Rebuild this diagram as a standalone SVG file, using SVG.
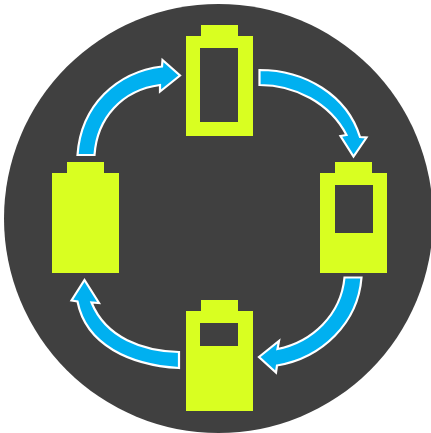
<svg xmlns="http://www.w3.org/2000/svg" width="431" height="433" viewBox="0 0 431 433">
<style>
.b{fill:#d9ff21}
.h{fill:#404040}
.a{fill:#00b0f0;stroke:#fff;stroke-width:2.2;stroke-linejoin:miter;stroke-miterlimit:10}
</style>
<rect width="431" height="433" fill="#fff"/>
<circle id="disc" cx="218.5" cy="218.5" r="214.5" fill="#404040"/>
<g id="battery-top"><rect class="b" x="201" y="25" width="37" height="11"/><rect class="b" x="186" y="36" width="67" height="100"/><rect class="h" x="200" y="48" width="38" height="74"/></g>
<g id="battery-right"><rect class="b" x="335" y="162" width="37" height="11"/><rect class="b" x="320" y="173" width="67" height="100"/><rect class="h" x="335" y="185" width="38" height="48"/></g>
<g id="battery-bottom"><rect class="b" x="201" y="300" width="37" height="11"/><rect class="b" x="186" y="311" width="67" height="100"/><rect class="h" x="200" y="323" width="38" height="23"/></g>
<g id="battery-left"><rect class="b" x="67" y="162" width="37" height="11"/><rect class="b" x="52" y="173" width="67" height="100"/></g>
<g id="connectors">
<path class="a" d="M259.500 70C305 70 347 95 360 137L366.500 137.500L353.500 156.500L340.500 136L346.500 135C330 103 295 85 259.500 85Z"/>
<path class="a" d="M361.500 277.500C358 323 322 358 277 365.500L276 372.500L259 357L279 341L277.500 349C312 342 341 315 344.500 277.500Z"/>
<path class="a" d="M179 352C143 351 106 338 91.500 302.500L99 303L84.500 280L71.500 300.500L77.500 301.500C86 345 130 365 179 368Z"/>
<path class="a" d="M77.500 155C81 105 117 72 162 66.500L162.500 60L180 75.500L160 91.500L160 85C122 90 97 118 94.500 155Z"/>
</g>
</svg>
